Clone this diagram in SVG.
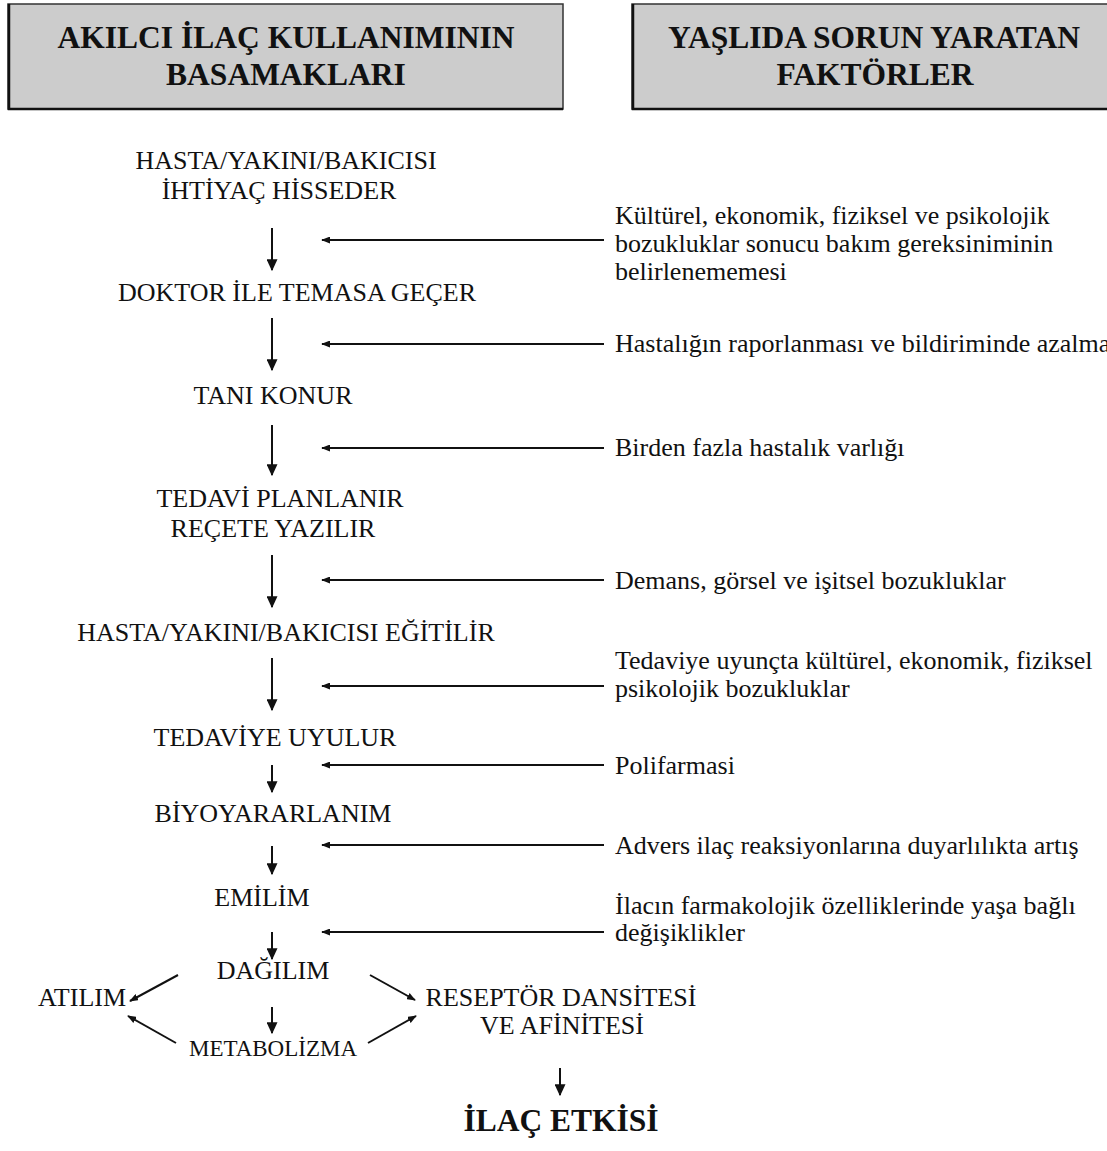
<svg xmlns="http://www.w3.org/2000/svg" width="1107" height="1151" viewBox="0 0 1107 1151">
<style>
.t{font-family:"Liberation Serif","Times New Roman",serif;font-size:26px;fill:#111}
.c{text-anchor:middle}
.h{font-family:"Liberation Serif","Times New Roman",serif;font-size:31.5px;font-weight:bold;fill:#111;text-anchor:middle}
.box{fill:#cccccc;stroke:#333;stroke-width:1.5}
.edge{stroke:#111;stroke-width:2.5;fill:none}
.ln{stroke:#111;stroke-width:2;fill:none}
</style>
<defs>
<marker id="ah" viewBox="0 0 10 10" refX="9" refY="5" markerWidth="6" markerHeight="5.5" markerUnits="strokeWidth" orient="auto" preserveAspectRatio="none">
<path d="M0,0 L10,5 L0,10 z" fill="#111"/>
</marker>
<marker id="as" viewBox="0 0 10 10" refX="9" refY="5" markerWidth="4.5" markerHeight="3.5" markerUnits="strokeWidth" orient="auto" preserveAspectRatio="none">
<path d="M0,0 L10,5 L0,10 z" fill="#111"/>
</marker>
</defs>
<rect width="1107" height="1151" fill="#fff"/>

<g id="header-left">
<rect class="box" x="8" y="4" width="555" height="105"/>
<path class="edge" d="M9,4 V109 H563"/>
<text class="h" x="286" y="48">AKILCI İLAÇ KULLANIMININ</text>
<text class="h" x="286" y="85">BASAMAKLARI</text>
</g>
<g id="header-right">
<rect class="box" x="632" y="4" width="490" height="105"/>
<path class="edge" d="M633,4 V109 H1107"/>
<text class="h" x="874" y="48">YAŞLIDA SORUN YARATAN</text>
<text class="h" x="875" y="85">FAKTÖRLER</text>
</g>

<g id="n1"><text class="t c" x="286" y="169">HASTA/YAKINI/BAKICISI</text><text class="t c" x="279" y="199">İHTİYAÇ HİSSEDER</text></g>
<g id="n2"><text class="t c" x="297" y="301">DOKTOR İLE TEMASA GEÇER</text></g>
<g id="n3"><text class="t c" x="273" y="404">TANI KONUR</text></g>
<g id="n4"><text class="t c" x="280" y="507">TEDAVİ PLANLANIR</text><text class="t c" x="273" y="537">REÇETE YAZILIR</text></g>
<g id="n5"><text class="t c" x="286" y="641">HASTA/YAKINI/BAKICISI EĞİTİLİR</text></g>
<g id="n6"><text class="t c" x="275" y="746">TEDAVİYE UYULUR</text></g>
<g id="n7"><text class="t c" x="273" y="822">BİYOYARARLANIM</text></g>
<g id="n8"><text class="t c" x="262" y="906">EMİLİM</text></g>
<g id="n9"><text class="t c" x="273" y="979">DAĞILIM</text></g>
<g id="n10"><text class="t c" x="82" y="1006">ATILIM</text></g>
<g id="n11"><text class="t c" x="273" y="1056" style="font-size:23px">METABOLİZMA</text></g>
<g id="n12"><text class="t c" x="561" y="1006">RESEPTÖR DANSİTESİ</text><text class="t c" x="562" y="1034">VE AFİNİTESİ</text></g>
<g id="n13"><text class="h" x="561" y="1131">İLAÇ ETKİSİ</text></g>

<g id="f1"><text class="t" x="615" y="224">Kültürel, ekonomik, fiziksel ve psikolojik</text><text class="t" x="615" y="252">bozukluklar sonucu bakım gereksiniminin</text><text class="t" x="615" y="280">belirlenememesi</text></g>
<g id="f2"><text class="t" x="615" y="352">Hastalığın raporlanması ve bildiriminde azalma</text></g>
<g id="f3"><text class="t" x="615" y="456">Birden fazla hastalık varlığı</text></g>
<g id="f4"><text class="t" x="615" y="589">Demans, görsel ve işitsel bozukluklar</text></g>
<g id="f5"><text class="t" x="615" y="669">Tedaviye uyunçta kültürel, ekonomik, fiziksel</text><text class="t" x="615" y="697">psikolojik bozukluklar</text></g>
<g id="f6"><text class="t" x="615" y="774">Polifarmasi</text></g>
<g id="f7"><text class="t" x="615" y="854">Advers ilaç reaksiyonlarına duyarlılıkta artış</text></g>
<g id="f8"><text class="t" x="615" y="914">İlacın farmakolojik özelliklerinde yaşa bağlı</text><text class="t" x="615" y="941">değişiklikler</text></g>

<g id="connectors">
<line class="ln" x1="272" y1="228" x2="272" y2="270" marker-end="url(#ah)"/>
<line class="ln" x1="272" y1="318" x2="272" y2="370" marker-end="url(#ah)"/>
<line class="ln" x1="272" y1="425" x2="272" y2="475" marker-end="url(#ah)"/>
<line class="ln" x1="272" y1="555" x2="272" y2="607" marker-end="url(#ah)"/>
<line class="ln" x1="272" y1="658" x2="272" y2="710" marker-end="url(#ah)"/>
<line class="ln" x1="272" y1="765" x2="272" y2="792" marker-end="url(#ah)"/>
<line class="ln" x1="272" y1="846" x2="272" y2="874" marker-end="url(#ah)"/>
<line class="ln" x1="272" y1="932" x2="272" y2="959" marker-end="url(#ah)"/>
<line class="ln" x1="272" y1="1007" x2="272" y2="1033" marker-end="url(#ah)"/>
<line class="ln" x1="560" y1="1068" x2="560" y2="1095" marker-end="url(#ah)"/>

<line class="ln" x1="604" y1="240" x2="322" y2="240" marker-end="url(#as)"/>
<line class="ln" x1="604" y1="344" x2="322" y2="344" marker-end="url(#as)"/>
<line class="ln" x1="604" y1="448" x2="322" y2="448" marker-end="url(#as)"/>
<line class="ln" x1="604" y1="580" x2="322" y2="580" marker-end="url(#as)"/>
<line class="ln" x1="604" y1="686" x2="322" y2="686" marker-end="url(#as)"/>
<line class="ln" x1="604" y1="765" x2="322" y2="765" marker-end="url(#as)"/>
<line class="ln" x1="604" y1="845" x2="322" y2="845" marker-end="url(#as)"/>
<line class="ln" x1="604" y1="932" x2="322" y2="932" marker-end="url(#as)"/>

<line class="ln" x1="178" y1="975" x2="130" y2="1001" marker-end="url(#as)"/>
<line class="ln" x1="370" y1="975" x2="415" y2="1000" marker-end="url(#as)"/>
<line class="ln" x1="176" y1="1043" x2="128" y2="1016" marker-end="url(#as)"/>
<line class="ln" x1="368" y1="1043" x2="416" y2="1016" marker-end="url(#as)"/>
</g>
</svg>
